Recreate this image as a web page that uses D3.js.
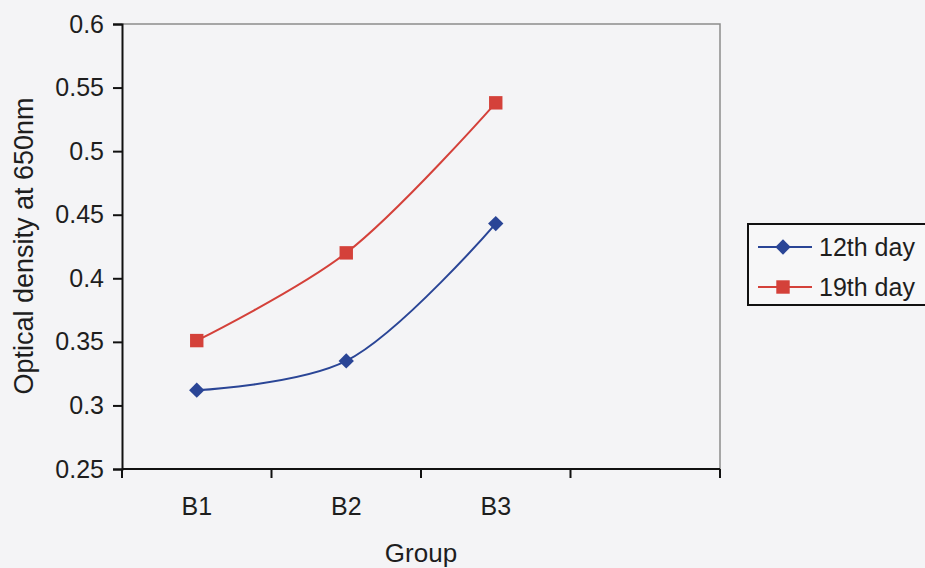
<!DOCTYPE html>
<html lang="en">
<head>
    <meta charset="UTF-8">
    <title>Optical density by group</title>
    <script src="https://d3js.org/d3.v7.min.js"></script>
    <style>
        html, body {
            margin: 0;
            padding: 0;
            background: #f4f4f6;
        }
        svg text {
            font-family: "Liberation Sans", Arial, sans-serif;
            fill: #1e1e1e;
        }
    </style>
</head>
<body>
    <div id="chart"></div>

    <script>
        // categories (4th slot is empty in the original)
        const groups = ["B1", "B2", "B3", ""];
        const yTicks = [0.25, 0.3, 0.35, 0.4, 0.45, 0.5, 0.55, 0.6];

        // series values
        const day12 = [0.312, 0.335, 0.443];
        const day19 = [0.351, 0.420, 0.538];

        const seriesNames = ["12th day", "19th day"];
        const seriesColors = ["#2a4596", "#d4413a"];

        const width = 925, height = 568;
        const margin = { top: 24, right: 205, bottom: 99, left: 122 };

        const svg = d3.select("#chart")
            .append("svg")
            .attr("width", width)
            .attr("height", height);

        const x = d3.scaleBand()
            .domain(groups)
            .range([margin.left, width - margin.right]);

        const y = d3.scaleLinear()
            .domain([0.25, 0.6])
            .range([height - margin.bottom, margin.top]);

        // plot frame (top and right edges are grey)
        svg.append("path")
            .attr("d", `M${x.range()[0]},${y(0.6)}H${x.range()[1]}V${y(0.25)}`)
            .attr("fill", "none")
            .attr("stroke", "#8c8c8c")
            .attr("stroke-width", 1.5);

        // y axis
        const yAxis = svg.append("g")
            .attr("transform", `translate(${margin.left},0)`)
            .call(d3.axisLeft(y).tickValues(yTicks)
                .tickFormat(d3.format("~g")).tickSize(9).tickPadding(9));
        yAxis.select(".domain").attr("stroke", "#111").attr("stroke-width", 2);
        yAxis.selectAll(".tick line").attr("stroke", "#111").attr("stroke-width", 2);
        yAxis.selectAll("text").style("font-size", "25px").attr("fill", "#1e1e1e");

        // x axis: ticks sit between categories
        const xAxisG = svg.append("g")
            .attr("transform", `translate(0,${y(0.25)})`);
        xAxisG.append("line")
            .attr("x1", x.range()[0]).attr("x2", x.range()[1])
            .attr("stroke", "#111").attr("stroke-width", 2);
        const edges = groups.map(g => x(g)).concat([x.range()[1]]);
        xAxisG.selectAll(".xtick")
            .data(edges)
            .join("line")
            .attr("x1", d => d).attr("x2", d => d)
            .attr("y1", 0).attr("y2", 9)
            .attr("stroke", "#111").attr("stroke-width", 2);
        xAxisG.selectAll(".xlab")
            .data(groups)
            .join("text")
            .attr("x", d => x(d) + x.bandwidth() / 2)
            .attr("y", 46)
            .attr("text-anchor", "middle")
            .style("font-size", "25px")
            .text(d => d);

        // axis titles
        svg.append("text")
            .attr("x", (x.range()[0] + x.range()[1]) / 2)
            .attr("y", 562)
            .attr("text-anchor", "middle")
            .style("font-size", "26px")
            .text("Group");

        svg.append("text")
            .attr("transform", "translate(33,246) rotate(-90)")
            .attr("text-anchor", "middle")
            .style("font-size", "27px")
            .text("Optical density at 650nm");

        // smoothed lines
        const line = d3.line()
            .x((d, i) => x(groups[i]) + x.bandwidth() / 2)
            .y(d => y(d))
            .curve(d3.curveCatmullRom.alpha(0.5));

        const allSeries = [day12, day19];
        allSeries.forEach((vals, s) => {
            svg.append("path")
                .datum(vals)
                .attr("d", line)
                .attr("fill", "none")
                .attr("stroke", seriesColors[s])
                .attr("stroke-width", 2);
        });

        // markers
        const diamond = d3.symbol().type(d3.symbolDiamond2).size(150);
        const square = d3.symbol().type(d3.symbolSquare).size(180);

        svg.selectAll(".m12")
            .data(day12)
            .join("path")
            .attr("transform", (d, i) => `translate(${x(groups[i]) + x.bandwidth() / 2},${y(d)})`)
            .attr("d", diamond)
            .attr("fill", seriesColors[0]);

        svg.selectAll(".m19")
            .data(day19)
            .join("path")
            .attr("transform", (d, i) => `translate(${x(groups[i]) + x.bandwidth() / 2},${y(d)})`)
            .attr("d", square)
            .attr("fill", seriesColors[1]);

        // legend
        const legend = svg.append("g").attr("transform", "translate(748,224)");
        legend.append("rect")
            .attr("width", 200).attr("height", 81)
            .attr("fill", "#f7f7f8")
            .attr("stroke", "#111").attr("stroke-width", 2);

        seriesNames.forEach((name, s) => {
            const row = legend.append("g").attr("transform", `translate(0,${23 + s * 40})`);
            row.append("line")
                .attr("x1", 10).attr("x2", 64)
                .attr("stroke", seriesColors[s]).attr("stroke-width", 2);
            row.append("path")
                .attr("transform", "translate(35,0)")
                .attr("d", s === 0 ? diamond : square)
                .attr("fill", seriesColors[s]);
            row.append("text")
                .attr("x", 71).attr("y", 9)
                .style("font-size", "25px")
                .text(name);
        });
    </script>
</body>
</html>
